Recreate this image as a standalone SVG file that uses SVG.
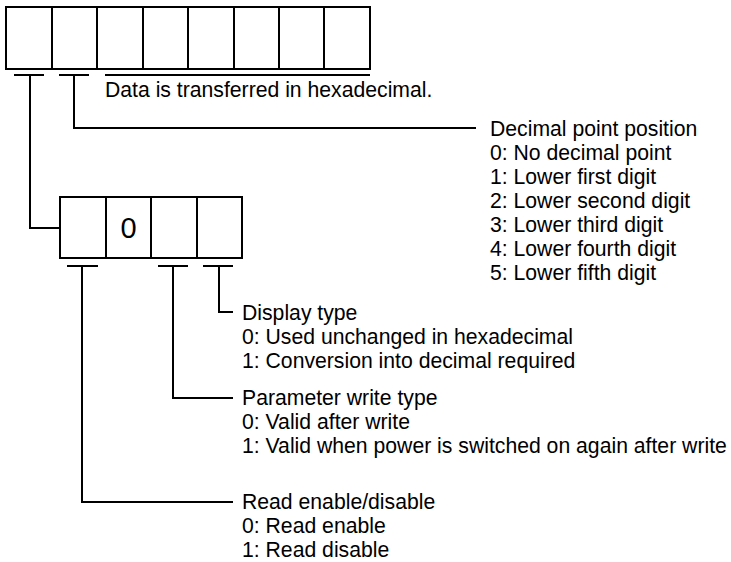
<svg xmlns="http://www.w3.org/2000/svg" width="731" height="562" viewBox="0 0 731 562">
<style>
.box{fill:#fff;stroke:#000;stroke-width:2}
.ln{fill:none;stroke:#000;stroke-width:2}
text{font-family:"Liberation Sans",Arial,sans-serif;font-size:21.2px;fill:#000}
.big{font-size:29px;text-anchor:middle}
</style>
<rect width="731" height="562" fill="#fff"/>
<g id="word8">
<rect class="box" x="6" y="7" width="364" height="62"/>
<path class="ln" d="M52 7V69M97 7V69M143 7V69M188 7V69M234 7V69M279 7V69M324 7V69"/>
</g>
<g id="word4">
<rect class="box" x="60" y="197" width="182" height="61"/>
<path class="ln" d="M106 197V258M151 197V258M197 197V258"/>
<text class="big" x="128.5" y="238">0</text>
</g>
<g id="connectors">
<path class="ln" d="M14 75H44M59 75H89M105 75H370"/>
<path class="ln" d="M30 75V228H60"/>
<path class="ln" d="M74 75V128H476"/>
<path class="ln" d="M67 266H98M158 266H188M203 266H233"/>
<path class="ln" d="M219 266V312H233"/>
<path class="ln" d="M173 266V398H233"/>
<path class="ln" d="M82 266V502H233"/>
</g>
<g id="hex-note"><text x="105" y="97">Data is transferred in hexadecimal.</text></g>
<g id="decimal">
<text x="490" y="136">Decimal point position</text>
<text x="490" y="160">0: No decimal point</text>
<text x="490" y="184">1: Lower first digit</text>
<text x="490" y="208">2: Lower second digit</text>
<text x="490" y="232">3: Lower third digit</text>
<text x="490" y="256">4: Lower fourth digit</text>
<text x="490" y="280">5: Lower fifth digit</text>
</g>
<g id="display">
<text x="242" y="320">Display type</text>
<text x="242" y="344">0: Used unchanged in hexadecimal</text>
<text x="242" y="368">1: Conversion into decimal required</text>
</g>
<g id="param">
<text x="242" y="405">Parameter write type</text>
<text x="242" y="429">0: Valid after write</text>
<text x="242" y="453">1: Valid when power is switched on again after write</text>
</g>
<g id="read">
<text x="242" y="509">Read enable/disable</text>
<text x="242" y="533">0: Read enable</text>
<text x="242" y="557">1: Read disable</text>
</g>
</svg>
